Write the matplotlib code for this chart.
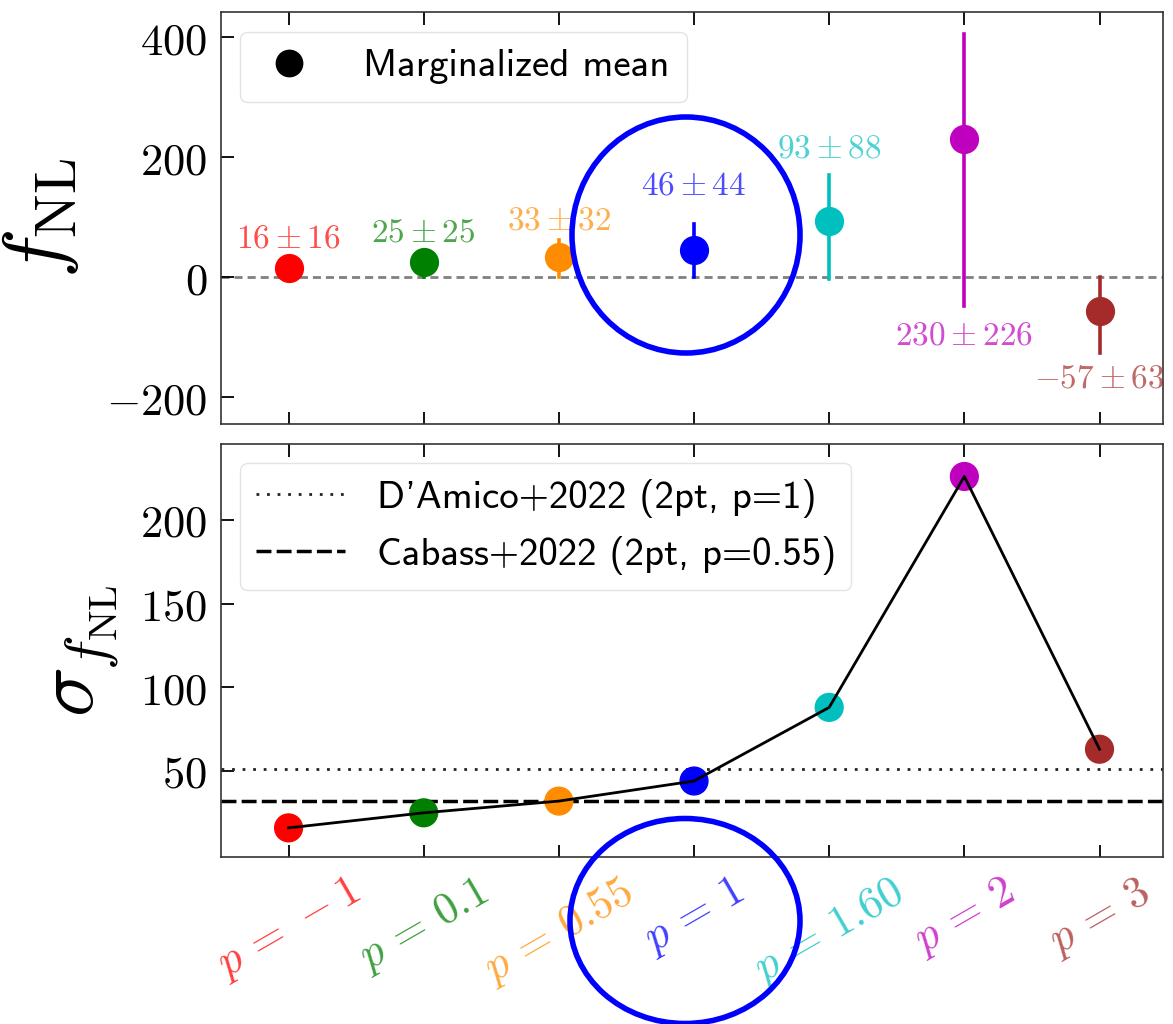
import numpy as np
import matplotlib
matplotlib.use('Agg')
import matplotlib.pyplot as plt
from matplotlib.patches import Ellipse
from matplotlib.ticker import FuncFormatter

plt.rcParams['mathtext.fontset'] = 'cm'

# --- data ---
p_labels = [r'$p\,=\,-1$', r'$p\,=\,0.1$', r'$p\,=\,0.55$', r'$p\,=\,1$',
            r'$p\,=\,1.60$', r'$p\,=\,2$', r'$p\,=\,3$']
colors = ['red', 'green', 'darkorange', 'blue', 'c', 'm', 'brown']
fnl_mean = [16, 25, 33, 46, 93, 230, -57]
fnl_sigma = [16, 25, 32, 44, 88, 226, 63]
# 誤差棒の下端と上端
bar_lo = [1, 1, 0, 0, -3, -48, -127]
bar_hi = [32, 45, 62, 88, 170, 405, 0]
damico_sigma = 51
cabass_sigma = 32

# 注記テキストの縦位置（データ座標）
label_y = [65, 75, 95, 153, 215, -97, -168]

x = np.arange(len(p_labels))

fig = plt.figure(figsize=(11.73, 10.24), dpi=100)
ax1 = fig.add_axes([0.1884, 0.5859, 0.8031, 0.4023])
ax2 = fig.add_axes([0.1884, 0.1631, 0.8031, 0.4033], sharex=ax1)

math_fmt = FuncFormatter(lambda v, pos: r'$%d$' % v)

# --- 上段: f_NL ---
ax1.axhline(0, color='grey', ls='--', lw=2, dashes=(2.9, 1.8), zorder=1)
for i in range(len(x)):
    ax1.plot([x[i], x[i]], [bar_lo[i], bar_hi[i]], color=colors[i], lw=2.6, zorder=2)
    ax1.plot(x[i], fnl_mean[i], 'o', color=colors[i], ms=20, zorder=3)
    txt = r'$%d \pm %d$' % (fnl_mean[i], fnl_sigma[i])
    ax1.text(x[i], label_y[i], txt, ha='center', va='center', color=colors[i],
             alpha=0.7, fontsize=24)
ax1.plot([], [], 'o', color='black', ms=19, label='Marginalized mean')
leg1 = ax1.legend(loc='upper left', prop={'family': 'cmss10', 'size': 28},
                  borderpad=0.45, handletextpad=1.1, handlelength=1.6,
                  borderaxespad=0.5, fancybox=True)
leg1.get_frame().set_edgecolor('#dddddd')
ax1.set_ylim(-245, 442)
ax1.set_yticks([-200, 0, 200, 400])
ax1.yaxis.set_major_formatter(math_fmt)
ax1.set_ylabel(r'$f_{\rm NL}$', fontsize=60, labelpad=18)

# --- 下段: sigma(f_NL) ---
ax2.axhline(damico_sigma, color='#222222', lw=2, dashes=(1, 2.8), label="D'Amico+2022 (2pt, p=1)")
ax2.axhline(cabass_sigma, color='black', lw=2.5, dashes=(4.3, 1.5), label='Cabass+2022 (2pt, p=0.55)')
ax2.scatter(x, fnl_sigma, c=colors, s=20**2, zorder=3)
ax2.plot(x, fnl_sigma, color='black', lw=2, zorder=4)
leg2 = ax2.legend(loc='upper left', prop={'family': 'cmss10', 'size': 28},
                  borderpad=0.4, handletextpad=0.8, handlelength=2.3,
                  borderaxespad=0.5, labelspacing=0.45, fancybox=True)
leg2.get_frame().set_edgecolor('#dddddd')
ax2.set_ylim(-1.4, 245.4)
ax2.set_yticks([50, 100, 150, 200])
ax2.yaxis.set_major_formatter(math_fmt)
ax2.set_ylabel(r'$\sigma_{f_{\rm NL}}$', fontsize=60, labelpad=14)

ax2.set_xlim(-0.5, 6.47)
ax2.set_xticks(x)
ax2.set_xticklabels(p_labels, rotation=30, ha='center', fontsize=31)
for lab, c in zip(ax2.get_xticklabels(), colors):
    lab.set_color(c)
    lab.set_alpha(0.75)
plt.setp(ax1.get_xticklabels(), visible=False)

for ax in (ax1, ax2):
    ax.tick_params(direction='in', top=True, right=False, length=9, width=1.3,
                   labelsize=32, pad=10)
    for s in ax.spines.values():
        s.set_color('#333333')
        s.set_linewidth(1.2)

# 青い丸の注記
circles = [((686 / 1173, 1 - 235 / 1024), 228 / 1173, 236 / 1024),
           ((685 / 1173, 1 - 921 / 1024), 230 / 1173, 205 / 1024)]
for cen, w, h in circles:
    fig.patches.append(Ellipse(cen, w, h, transform=fig.transFigure, fill=False,
                               edgecolor='blue', lw=4, zorder=10))

fig.savefig('out.png', dpi=100)
